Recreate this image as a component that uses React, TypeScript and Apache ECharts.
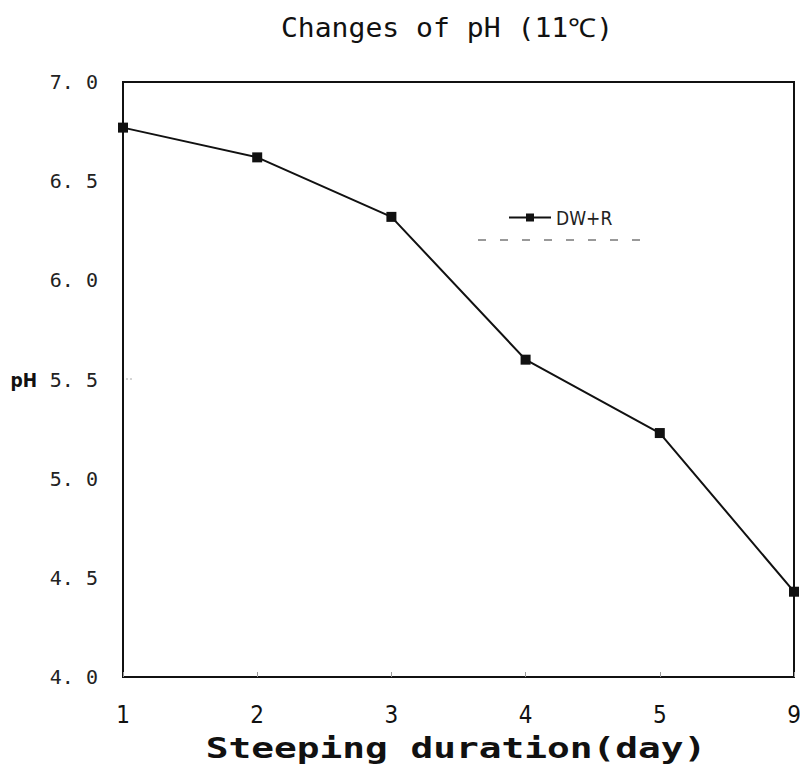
import React, { useEffect, useRef } from "react";
import * as echarts from "echarts";

const days = ["1", "2", "3", "4", "5", "9"];
const phValues = [6.77, 6.62, 6.32, 5.6, 5.23, 4.43];
const seriesName = "DW+R";
const chartTitle = "Changes of pH (11℃)";
const xAxisTitle = "Steeping duration(day)";

const FONT = "'DejaVu Sans Condensed', 'DejaVu Sans', sans-serif";
const MONO = "'DejaVu Sans Mono', monospace";

export default function App() {
  const ref = useRef<HTMLDivElement>(null);

  useEffect(() => {
    if (!ref.current) return;
    const chart = echarts.init(ref.current, null, { renderer: "svg" });
    chart.setOption({
      animation: false,
      backgroundColor: "#ffffff",
      legend: {
        left: 503,
        top: 203,
        itemWidth: 42,
        itemHeight: 10,
        itemGap: 4,
        textStyle: { fontFamily: FONT, fontSize: 19, color: "#222" },
        data: [seriesName],
      },
      grid: {
        left: 123,
        right: 6,
        top: 82,
        bottom: 95,
        outerBoundsMode: "none",
        containLabel: false,
        show: true,
        borderColor: "#111",
        borderWidth: 2,
      },
      xAxis: {
        type: "category",
        data: days,
        boundaryGap: false,
        axisLine: { lineStyle: { color: "#111", width: 2 } },
        axisTick: { inside: true, length: 5, lineStyle: { color: "#999", width: 1 } },
        axisLabel: { fontFamily: FONT, fontSize: 24, color: "#111", margin: 26 },
        splitLine: { show: false },
      },
      yAxis: {
        type: "value",
        min: 4,
        max: 7,
        interval: 0.5,
        name: "pH",
        nameLocation: "middle",
        nameRotate: 0,
        nameGap: 86,
        nameTextStyle: { fontFamily: FONT, fontSize: 19, color: "#111", fontWeight: "bold" },
        axisLine: { show: true, lineStyle: { color: "#111", width: 2 } },
        axisTick: { show: false },
        axisLabel: {
          fontFamily: MONO,
          fontSize: 20,
          color: "#222",
          margin: 25,
          formatter: (v: number) => v.toFixed(1).replace(".", ". "),
        },
        splitLine: { show: false },
      },
      graphic: [
        {
          type: "text",
          x: 447,
          y: 28,
          scaleX: 1.08,
          style: {
            text: chartTitle,
            fontFamily: MONO,
            fontSize: 26,
            fill: "#111",
            align: "center",
            verticalAlign: "middle",
          },
        },
        {
          type: "text",
          x: 456,
          y: 748,
          scaleX: 1.35,
          style: {
            text: xAxisTitle,
            fontFamily: MONO,
            fontSize: 28,
            fontWeight: "bold",
            fill: "#111",
            align: "center",
            verticalAlign: "middle",
          },
        },
        {
          type: "rect",
          shape: { x: 123, y: 82, width: 671, height: 595 },
          style: { fill: "none", stroke: "#111", lineWidth: 2 },
          silent: true,
        },
        {
          type: "line",
          shape: { x1: 478, y1: 240, x2: 652, y2: 240 },
          style: { stroke: "#999", lineWidth: 2, lineDash: [8, 14] },
        },
        {
          type: "line",
          shape: { x1: 126, y1: 379, x2: 134, y2: 379 },
          style: { stroke: "#aaa", lineWidth: 1, lineDash: [2, 2] },
        },
      ],
      series: [
        {
          name: seriesName,
          type: "line",
          data: phValues,
          symbol: "rect",
          symbolSize: 10,
          itemStyle: { color: "#111" },
          lineStyle: { color: "#111", width: 2 },
        },
      ],
    });
    return () => chart.dispose();
  }, []);

  return (
    <div
      ref={ref}
      style={{ position: "absolute", left: 0, top: 0, width: 800, height: 772 }}
    />
  );
}
